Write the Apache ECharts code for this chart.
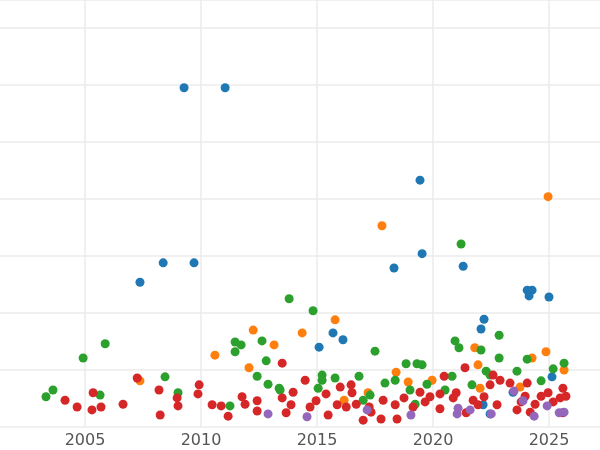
<!DOCTYPE html>
<html>
<head>
<meta charset="utf-8">
<script src="https://cdn.jsdelivr.net/npm/echarts@6/dist/echarts.min.js"></script>
<style>html,body{margin:0;padding:0;background:#fff}#main{width:600px;height:450px}</style>
</head>
<body>
<div id="main"></div>
<script>
var blueData = [[2009.27,59.5],[2011.04,59.5],[2019.44,43.3],[2008.37,28.8],[2009.7,28.8],[2007.37,25.4],[2018.32,27.9],[2019.53,30.4],[2021.3,28.2],[2022.2,18.9],[2022.07,17.2],[2024.06,24.0],[2024.27,24.0],[2024.14,23.0],[2025.0,22.8],[2015.69,16.5],[2015.09,14.0],[2016.12,15.3],[2025.13,8.8],[2022.16,3.9],[2022.46,2.3],[2023.45,6.1]];
var orangeData = [[2024.96,40.4],[2017.8,35.3],[2015.78,18.8],[2014.36,16.5],[2012.25,17.0],[2010.6,12.6],[2013.15,14.4],[2012.07,10.4],[2007.37,8.1],[2024.87,13.2],[2021.8,13.9],[2024.27,12.1],[2021.94,10.9],[2025.65,10.0],[2018.41,9.6],[2018.93,7.9],[2019.96,8.2],[2017.2,6.0],[2016.17,4.7],[2022.03,6.8],[2023.75,7.0]];
var greenData = [[2013.8,22.5],[2014.83,20.4],[2021.21,32.1],[2004.92,12.1],[2005.87,14.6],[2011.47,14.9],[2011.47,13.2],[2011.73,14.4],[2012.63,15.1],[2012.81,11.6],[2017.5,13.3],[2016.81,8.9],[2020.95,15.1],[2021.12,13.9],[2022.07,13.5],[2022.85,12.1],[2024.06,11.9],[2022.85,16.1],[2019.31,11.1],[2019.53,10.9],[2018.84,11.1],[2008.45,8.8],[2009.01,6.0],[2005.65,5.6],[2003.62,6.5],[2003.32,5.3],[2012.89,7.5],[2013.37,6.8],[2012.42,8.9],[2015.22,9.1],[2015.22,8.2],[2015.78,8.6],[2017.93,7.7],[2018.37,8.2],[2019.01,6.5],[2019.74,7.5],[2020.52,6.5],[2020.82,8.9],[2021.68,7.4],[2022.29,9.8],[2022.46,9.1],[2023.62,9.8],[2025.18,10.2],[2025.65,11.2],[2024.66,8.1],[2011.25,3.7],[2019.23,4.0],[2017.29,5.6],[2016.99,4.7],[2013.41,6.5],[2015.05,6.8]];
var redData = [[2007.25,8.6],[2004.14,4.7],[2004.66,3.5],[2005.35,6.0],[2005.69,3.5],[2005.3,3.0],[2006.64,4.0],[2008.19,6.5],[2008.24,2.1],[2008.97,5.1],[2009.01,3.7],[2009.87,5.8],[2009.92,7.4],[2010.48,3.9],[2010.87,3.7],[2011.17,1.9],[2011.77,5.3],[2011.9,4.0],[2012.42,4.6],[2012.42,2.8],[2013.5,11.2],[2013.5,5.1],[2013.67,2.5],[2013.88,3.9],[2013.97,6.1],[2014.49,8.2],[2014.7,3.5],[2014.96,4.6],[2015.39,5.8],[2015.48,2.1],[2015.87,3.9],[2016.26,3.5],[2016.47,7.4],[2016.51,6.0],[2016.69,4.0],[2016.99,1.2],[2017.25,3.5],[2017.76,1.4],[2017.85,4.7],[2018.37,3.9],[2018.45,1.4],[2018.75,5.1],[2019.14,3.5],[2019.44,6.1],[2019.87,5.3],[2020.3,3.2],[2020.48,8.9],[2020.87,5.1],[2021.0,6.0],[2021.38,10.4],[2021.43,2.5],[2021.73,4.7],[2021.94,3.9],[2022.2,5.3],[2022.46,7.4],[2022.59,9.1],[2022.76,3.9],[2022.89,8.2],[2023.32,7.7],[2023.62,3.0],[2023.8,4.4],[2023.97,5.4],[2024.06,7.7],[2024.19,2.6],[2024.4,4.0],[2024.66,5.4],[2024.96,6.0],[2025.18,4.4],[2025.48,5.1],[2025.6,6.8],[2025.73,5.4],[2025.6,2.5],[2017.33,2.6],[2016.0,7.0],[2020.3,5.8],[2019.66,4.4]];
var purpleData = [[2012.89,2.3],[2014.57,1.8],[2017.16,3.0],[2019.05,2.1],[2021.08,3.3],[2021.04,2.3],[2021.6,3.0],[2022.51,2.3],[2023.49,6.3],[2023.88,4.6],[2024.36,1.9],[2024.92,3.7],[2025.44,2.5],[2025.65,2.6]];
var seriesList = [
  ['blue', '#1f77b4', blueData],
  ['orange', '#ff7f0e', orangeData],
  ['green', '#2ca02c', greenData],
  ['red', '#d62728', redData],
  ['purple', '#9467bd', purpleData]
];

var myChart = echarts.init(document.getElementById('main'));
var option = {
  animation: false,
  grid: { left: -31, right: -65, top: 0, bottom: 23, containLabel: false, outerBoundsMode: 'none' },
  xAxis: {
    type: 'value', min: 2000, max: 2030, interval: 5,
    axisLine: { show: false }, axisTick: { show: false },
    axisLabel: { color: '#555', fontSize: 16, fontFamily: 'DejaVu Sans', margin: 6, formatter: function (v) { return String(v); } },
    splitLine: { lineStyle: { color: '#ebebeb', width: 1.5 } }
  },
  yAxis: {
    type: 'value', min: 0, max: 74.9, interval: 10,
    axisLine: { show: false }, axisTick: { show: false }, axisLabel: { show: false },
    splitLine: { lineStyle: { color: '#ebebeb', width: 1.5 } }
  },
  series: seriesList.map(function (s) {
    return { name: s[0], type: 'scatter', symbolSize: 9, itemStyle: { color: s[1], opacity: 1 }, data: s[2] };
  })
};
myChart.setOption(option);
</script>
</body>
</html>
